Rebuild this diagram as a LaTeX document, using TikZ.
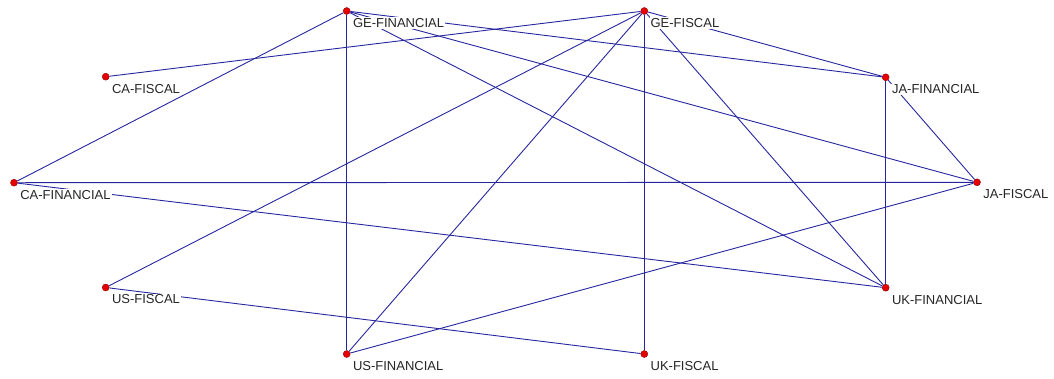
\documentclass[tikz,border=0pt]{standalone}
\usepackage{fontspec}
\setmainfont{Liberation Sans}
\usetikzlibrary{positioning}
\definecolor{edgeblue}{RGB}{38,38,160}
\definecolor{dotred}{RGB}{232,0,0}
\definecolor{dotrim}{RGB}{140,0,0}

\begin{document}
\begin{tikzpicture}[x=1pt,y=-1pt,
                    vertex/.style={circle,fill=dotred,draw=dotrim,thin,inner sep=0pt,minimum size=7pt},
                    lbl/.style={fill=white,inner sep=1pt,text=black!85,font=\fontsize{13}{15}\selectfont},
                    link/.style={draw=edgeblue,line width=0.9pt}]

  \useasboundingbox (0,0) rectangle (1054,378);

  \node[vertex] (gefin)  at (346.7,11)  {};
  \node[vertex] (gefis)  at (644.3,11)  {};
  \node[vertex] (cafis)  at (105.7,76.7) {};
  \node[vertex] (jafin)  at (885.7,77.3) {};
  \node[vertex] (cafin)  at (14,182.7)  {};
  \node[vertex] (jafis)  at (977,182.3) {};
  \node[vertex] (usfis)  at (105.7,287.5) {};
  \node[vertex] (ukfin)  at (885.7,287.7) {};
  \node[vertex] (usfin)  at (346.7,354) {};
  \node[vertex] (ukfis)  at (644.3,354) {};

  \path[link] (gefin) edge (cafin)
                      edge (usfin)
                      edge (jafin)
                      edge (jafis)
                      edge (ukfin)
              (gefis) edge (cafis)
                      edge (usfis)
                      edge (usfin)
                      edge (ukfis)
                      edge (ukfin)
                      edge (jafin)
              (jafin) edge (ukfin)
                      edge (jafis)
              (cafin) edge (jafis)
                      edge (ukfin)
              (usfis) edge (ukfis)
              (usfin) edge (jafis);

  \node[lbl, below right=3.5pt and 2.5pt of gefin] (gefinl) {GE-FINANCIAL};
  \node[lbl, below right=3.5pt and 2.5pt of gefis] (gefisl) {GE-FISCAL};
  \node[lbl, below right=3.5pt and 2.5pt of cafis] (cafisl) {CA-FISCAL};
  \node[lbl, below right=3.5pt and 2.5pt of jafin] (jafinl) {JA-FINANCIAL};
  \node[lbl, below right=3.5pt and 2.5pt of cafin] (cafinl) {CA-FINANCIAL};
  \node[lbl, below right=3.5pt and 2.5pt of jafis] (jafisl) {JA-FISCAL};
  \node[lbl, below right=3.5pt and 2.5pt of usfis] (usfisl) {US-FISCAL};
  \node[lbl, below right=3.5pt and 2.5pt of ukfin] (ukfinl) {UK-FINANCIAL};
  \node[lbl, below right=3.5pt and 2.5pt of usfin] (usfinl) {US-FINANCIAL};
  \node[lbl, below right=3.5pt and 2.5pt of ukfis] (ukfisl) {UK-FISCAL};
\end{tikzpicture}
\end{document}
